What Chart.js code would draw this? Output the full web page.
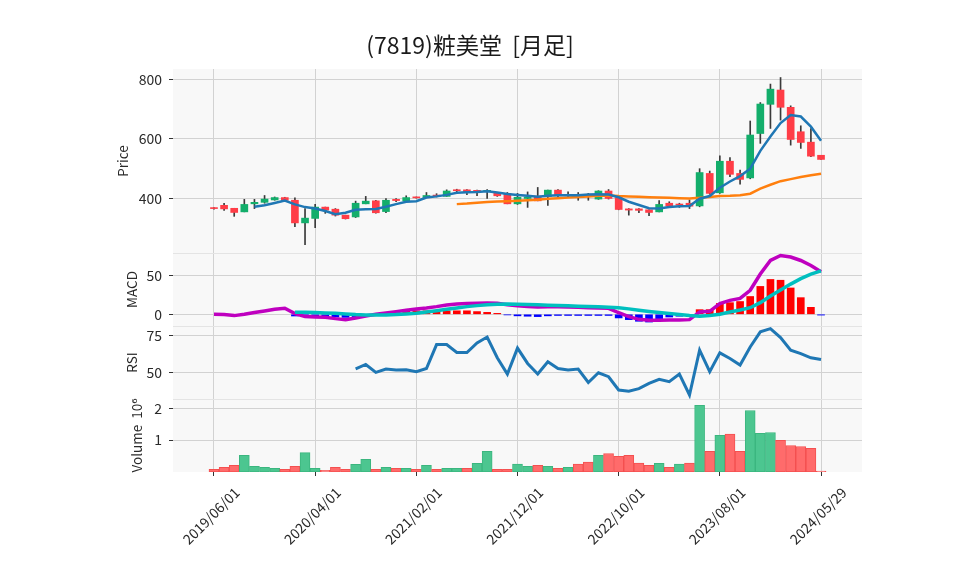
<!DOCTYPE html>
<html>
<head>
<meta charset="utf-8">
<script src="https://cdn.jsdelivr.net/npm/chart.js@4.4.1/dist/chart.umd.min.js"></script>
<style>
html,body{margin:0;padding:0;background:#ffffff;}
#wrap{width:958px;height:575px;position:relative;}
</style>
</head>
<body>
<div id="wrap"><canvas id="c" width="958" height="575"></canvas></div>
<script>
// ---------- data ----------
const chartTitle = '(7819)粧美堂  [月足]';
const tickPositions = [0, 10, 20, 30, 40, 50, 60];
const tickLabels = ['2019/06/01', '2020/04/01', '2021/02/01', '2021/12/01', '2022/10/01', '2023/08/01', '2024/05/29'];

const opens = [367,377,367,355,382,387,395,403,394,318, 333,371,364,344,338,382,392,356,397,392,
               404,403,410,407,429,429,426,424,419,417, 382,400,408,406,428,410,412,413,398,425,
               403,365,365,362,355,384,380,384,375,484, 419,525,484,469,618,716,764,706,624,589, 545];
const highs = [369,384,367,397,397,410,405,404,402,366, 380,371,366,344,391,407,394,400,400,409,
               405,420,416,429,431,430,428,430,419,420, 417,422,437,428,430,422,420,417,426,430,
               403,366,366,362,393,389,384,395,500,492, 543,537,495,660,722,784,806,711,644,635, 545];
const lows  = [364,360,340,355,366,384,394,393,305,245, 302,350,341,331,336,382,351,352,389,392,
               401,403,405,407,422,413,409,400,407,382, 380,370,392,377,405,405,394,394,397,398,
               362,344,352,342,355,370,370,366,372,414, 417,473,448,466,585,635,663,579,568,540, 531];
const closes = [366,365,353,380,387,398,403,394,318,334, 371,361,344,332,384,391,352,394,393,403,
               402,410,408,425,426,421,424,426,409,382, 404,405,392,428,409,411,410,406,425,400,
               363,361,360,353,380,375,378,374,487,417, 525,481,464,613,717,767,706,598,588,542, 531];

const volumes = [83000,146000,210000,520000,180000,146000,115000,83000,180000,610000,
                 115000,50000,146000,83000,240000,400000,83000,146000,115000,115000,
                 83000,210000,83000,115000,115000,115000,270000,650000,83000,83000,
                 250000,180000,210000,180000,115000,146000,250000,310000,520000,580000,
                 490000,520000,280000,210000,270000,146000,250000,280000,2090000,650000,
                 1150000,1190000,650000,1930000,1210000,1240000,990000,830000,800000,740000,
                 30000];

const ma5 = [null,null,null,null, 372,377,385,393,380,371, 366,358,347,352,362,364,365,372,381,389,
             391,403,407,412,419,421,422,424,420,415, 412,409,406,409,411,411,411,413,414,413,
             404,389,378,367,366,371,374,375,399,408, 436,457,475,500,560,608,653,680,675,641, 594];
const ma25 = [null,null,null,null,null,null,null,null,null,null, null,null,null,null,null,null,null,null,null,null,
              null,null,null,null,381,383,386,388,390,391, 392.5,394,396,399,401,403,405,407,409,410,
              408,407,405.5,404,403,402,401,400,402,405, 408,409,411,416,433,446,458,465,472,478, 483];

const macdLine = [0,-0.4,-1.7,0,2.2,4.3,6.5,7.8,0.9,-3, -3.4,-3.9,-5.6,-6.9,-4.7,-2.2,0,1.7,3.4,5.2,
                  6.9,8.2,9.9,12,13.4,13.8,14.2,14.7,14.2,12.4, 11,10.2,9.5,9.8,9.7,9.4,9,8.5,8.1,7.7,
                  2,-3,-6.5,-7.8,-7.8,-7.3,-7.3,-6.9,3,3.9, 13.8,18,20.5,31,52,69.5,76,74,69.5,63, 55];
const signalLine = [null,null,null,null,null,null,null,null, 2.6,2.6, 2.2,1.7,1.3,0.4,-0.4,-0.9,-0.9,-0.9,-0.4,0.4,
                  1.3,3.0,4.7,6.5,8.2,9.9,11.2,12.3,13,13.2, 13,12.7,12.3,11.8,11.4,11,10.5,10,9.6,9.2,
                  8.4,7,5.3,3.7,2.2,0.9,-0.4,-1.6,-2.5,-1.5, 0,3,5.5,8.5,15,23.5,31.5,39,46,52, 56];
const macdHist = [null,null,null,null,null,null,null,null, -2.2,-2.5, -2.5,-3,-3.5,-4,-3,-1.2,0.8,2,3,4,
                  4.5,4.5,4.5,4.5,4.5,4.5,3.5,2.5,1.2,-0.8, -2,-2.5,-3,-2,-1.5,-1.5,-1.5,-1.5,-1.5,-1.5,
                  -4.7,-6.9,-9,-10,-5.6,-3.5,-2.5,-1.5,6,6, 14,15,16.5,23,36,45,44,34,21.5,9, -1];
const rsi = [null,null,null,null,null,null,null,null,null,null, null,null,null,null,52.5,55.4,50,52.3,51.6,51.8,
             50.5,52.7,68.9,68.9,63.5,63.5,70,74,60,48.9, 66.5,56.1,48.9,57.2,52.7,51.6,52.3,43.2,49.8,47.1,
             38.1,37.2,39,42.6,45.3,43.7,48.9,34.7,65.1,50.5, 63.3,59.5,55,67.3,77.5,79.7,73.6,65.1,62.8,59.9, 58.8];

const priceTicks = [400, 600, 800];
const macdTicks = [0, 50];
const rsiTicks = [50, 75];
const volTicks = [1000000, 2000000];

// ---------- styling ----------
const UP = '#13ae6b', DOWN = '#ff3d47', WICK = '#3a3a3a';
const VOL_UP = '#4cc690', VOL_UP_EDGE = '#3bb67f', VOL_DN = '#ff6b6b', VOL_DN_EDGE = '#f45050';
const GRID = '#d2d2d2', TXT = '#2a2a2a';
const FONT = '"Noto Sans CJK JP", "DejaVu Sans", sans-serif';

const pts = arr => arr.map((v, i) => ({x: i, y: v})).filter(p => p.y !== null);
const candleUp = opens.map((o, i) => closes[i] >= o);
const volUp = closes.map((c, i) => i === 0 ? c >= opens[0] : c >= closes[i - 1]);

Chart.defaults.font.family = FONT;
Chart.defaults.color = TXT;

const bgPlugin = {
  id: 'bg',
  beforeDraw(chart) {
    const {ctx, chartArea: a} = chart;
    ctx.save();
    ctx.fillStyle = '#ffffff';
    ctx.fillRect(0, 0, chart.width, chart.height);
    ctx.fillStyle = '#f8f8f8';
    ctx.fillRect(a.left, a.top, a.right - a.left, a.bottom - a.top);
    ctx.restore();
  },
  beforeDatasetsDraw(chart) {
    const {ctx, chartArea: a, scales} = chart;
    ctx.save();
    ctx.strokeStyle = '#e4e4e4';
    ctx.lineWidth = 1;
    ['yMacd', 'yRsi', 'yVol'].forEach(id => {
      const y = Math.round(scales[id].top) + 0.5;
      ctx.beginPath(); ctx.moveTo(a.left, y); ctx.lineTo(a.right, y); ctx.stroke();
    });
    ctx.restore();
  },
  afterDraw(chart) {
    const ctx = chart.ctx;
    ctx.save();
    ctx.fillStyle = '#1a1a1a';
    ctx.font = '23px ' + FONT;
    ctx.textAlign = 'center';
    ctx.textBaseline = 'middle';
    ctx.fillText(chartTitle, 470, 45);
    ctx.restore();
  }
};

function yAxis(ticksArr, min, max, weight, stackWeight, titleText, titlePad, fmt) {
  return {
    type: 'linear', axis: 'y', position: 'left', stack: 'panels', stackWeight: stackWeight, weight: weight,
    min: min, max: max, offset: false,
    border: {display: false},
    grid: {color: GRID, lineWidth: 1, drawTicks: true, tickLength: 4, tickColor: '#333'},
    ticks: {font: {size: 14}, color: TXT, padding: 7, callback: fmt || (v => v)},
    title: {display: true, text: titleText, font: {size: 13.5}, color: TXT, padding: {top: titlePad, bottom: 0}},
    afterBuildTicks: s => { s.ticks = ticksArr.map(v => ({value: v})); },
    afterFit: s => { s.width = 173; }
  };
}

const bar = (extra) => Object.assign({type: 'bar', grouped: false, borderSkipped: false, minBarLength: 1}, extra);

new Chart(document.getElementById('c'), {
  type: 'line',
  data: {
    datasets: [
      // price panel
      {type: 'line', data: pts(ma5), yAxisID: 'y', borderColor: '#1f77b4', borderWidth: 2.5, pointRadius: 0, order: 0},
      {type: 'line', data: pts(ma25), yAxisID: 'y', borderColor: '#ff7f0e', borderWidth: 2.5, pointRadius: 0, order: 0},
      bar({data: opens.map((o, i) => ({x: i, y: [o, closes[i]]})), yAxisID: 'y',
           backgroundColor: candleUp.map(u => u ? UP : DOWN), borderWidth: 0, barThickness: 7, order: 1}),
      bar({data: lows.map((l, i) => ({x: i, y: [l, highs[i]]})), yAxisID: 'y',
           backgroundColor: WICK, borderWidth: 0, barThickness: 1, order: 2}),
      // MACD panel
      {type: 'line', data: pts(signalLine), yAxisID: 'yMacd', borderColor: '#00bfbf', borderWidth: 3.5, pointRadius: 0, order: 0},
      {type: 'line', data: pts(macdLine), yAxisID: 'yMacd', borderColor: '#bf00bf', borderWidth: 3.5, pointRadius: 0, order: 1},
      bar({data: pts(macdHist), yAxisID: 'yMacd', minBarLength: 0,
           backgroundColor: pts(macdHist).map(p => p.y >= 0 ? '#ff0000' : '#0000ff'), borderWidth: 0, barThickness: 7, order: 2}),
      // RSI panel
      {type: 'line', data: pts(rsi), yAxisID: 'yRsi', borderColor: '#1f77b4', borderWidth: 3, pointRadius: 0, order: 0},
      // Volume panel
      bar({data: pts(volumes), yAxisID: 'yVol', minBarLength: 0,
           backgroundColor: volUp.map(u => u ? VOL_UP : VOL_DN),
           borderColor: volUp.map(u => u ? VOL_UP_EDGE : VOL_DN_EDGE), borderWidth: 1, barThickness: 10, order: 1})
    ]
  },
  options: {
    responsive: false, animation: false, devicePixelRatio: 1,
    layout: {padding: {left: 0, right: 96, top: 69, bottom: 0}},
    plugins: {legend: {display: false}, tooltip: {enabled: false}, title: {display: false}},
    scales: {
      x: {
        type: 'linear', position: 'bottom', min: -4.05, max: 64.05, offset: false,
        border: {display: false},
        grid: {color: GRID, lineWidth: 1, offset: false, drawTicks: true, tickLength: 4, tickColor: '#333'},
        ticks: {autoSkip: false, minRotation: 45, maxRotation: 45, font: {size: 14}, color: TXT,
                padding: 8, labelOffset: 23,
                callback: v => tickLabels[tickPositions.indexOf(v)]},
        afterBuildTicks: s => { s.ticks = tickPositions.map(v => ({value: v})); },
        afterFit: s => { s.height = 103; }
      },
      y: yAxis(priceTicks, 217, 834.6, 4, 2.52, 'Price', 115),
      yMacd: yAxis(macdTicks, -15.1, 79.2, 3, 1, 'MACD', 124),
      yRsi: yAxis(rsiTicks, 32, 81.5, 2, 1, 'RSI', 124),
      yVol: yAxis(volTicks, 0, 2290000, 1, 1, 'Volume  10\u2076', 129, v => v / 1000000)
    }
  },
  plugins: [bgPlugin]
});
</script>
</body>
</html>
